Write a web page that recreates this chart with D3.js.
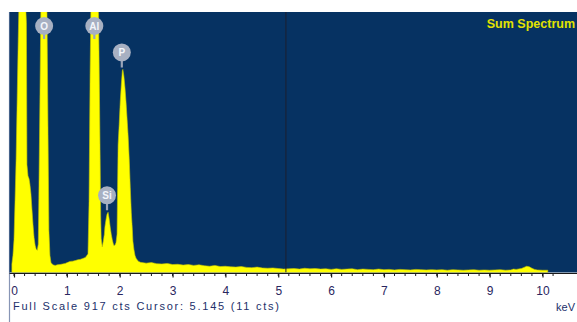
<!DOCTYPE html>
<html>
<head>
<meta charset="utf-8">
<script src="https://cdn.jsdelivr.net/npm/d3@7"></script>
<style>
  html, body { margin: 0; padding: 0; background: #fff; }
  svg { display: block; }
  text { font-family: "Liberation Sans", Arial, sans-serif; }
</style>
</head>
<body>
<svg id="chart" width="577" height="322"></svg>
<script>
// EDS spectrum: energy (keV) and counts per channel
const energies = [
  -0.04, -0.02, 0.00, 0.02, 0.04, 0.06, 0.08, 0.10, 0.12, 0.14, 0.16, 0.18, 0.20, 0.22, 0.235,
  0.245, 0.265, 0.285, 0.30, 0.32, 0.34, 0.36, 0.38, 0.40, 0.42, 0.44,
  0.46, 0.47, 0.49, 0.51, 0.53, 0.55, 0.57, 0.59, 0.61, 0.625, 0.645, 0.66, 0.68, 0.70, 0.72,
  0.75, 0.78, 0.82, 0.87, 0.92, 0.97, 1.02, 1.06, 1.11, 1.16, 1.21, 1.25, 1.30, 1.35, 1.40,
  1.42, 1.44, 1.46, 1.48, 1.50, 1.52, 1.54, 1.56, 1.58, 1.60, 1.61, 1.63, 1.64, 1.65, 1.67,
  1.69, 1.71, 1.72, 1.74, 1.76, 1.78, 1.80, 1.82, 1.84, 1.86, 1.88, 1.89, 1.91,
  1.93, 1.95, 1.96, 1.97, 1.99, 2.01, 2.03, 2.05, 2.06, 2.08, 2.10, 2.12, 2.14, 2.16, 2.18,
  2.20, 2.22, 2.24, 2.25, 2.27, 2.29, 2.31, 2.35, 2.39,
  2.5, 2.6, 2.7, 2.8, 2.9, 3.0, 3.1, 3.2, 3.3, 3.4, 3.5, 3.6, 3.7, 3.8, 3.9,
  4.0, 4.1, 4.2, 4.3, 4.4, 4.5, 4.6, 4.7, 4.8, 4.9, 5.0, 5.1, 5.2, 5.3, 5.4,
  5.5, 5.6, 5.7, 5.8, 5.9, 6.0, 6.1, 6.2, 6.3, 6.4, 6.5, 6.6, 6.7, 6.8, 6.9,
  7.0, 7.1, 7.2, 7.3, 7.4, 7.5, 7.6, 7.7, 7.8, 7.9, 8.0, 8.1, 8.2, 8.3, 8.4,
  8.5, 8.6, 8.7, 8.8, 8.9, 9.0, 9.1, 9.2, 9.3, 9.4, 9.45, 9.5, 9.6, 9.65, 9.7,
  9.75, 9.8, 9.85, 9.9, 10.0, 10.1
];
const counts = [
  30, 60, 115, 255, 400, 610, 820, 1000, 1150, 1250, 1260, 1200, 1080, 940, 880,
  380, 340, 330, 312, 278, 222, 168, 122, 96, 82, 78,
  100, 260, 600, 960, 1100, 1180, 1200, 1150, 1050, 900, 470, 150, 60, 35, 30,
  26, 25, 27, 28, 30, 32, 36, 39, 40, 42, 45, 46, 49, 53, 65,
  250, 700, 1000, 1200, 1300, 1320, 1300, 1200, 1050, 900, 750, 400, 200, 120, 90,
  110, 135, 160, 185, 205, 212, 190, 160, 135, 115, 100, 95, 96,
  105, 135, 300, 450, 520, 600, 660, 710, 715, 690, 650, 600, 540, 480, 400,
  300, 210, 150, 110, 80, 60, 50, 40, 36,
  33, 35, 31, 30, 32, 28, 29, 26, 28, 25, 27, 24, 22, 25, 21,
  22, 20, 19, 21, 18, 17, 19, 16, 15, 16, 14, 12, 13, 14, 12,
  15, 13, 14, 12, 13, 11, 13, 11, 12, 13, 10, 12, 11, 10, 12,
  10, 11, 9, 11, 10, 9, 11, 10, 9, 10, 9, 10, 8, 10, 9,
  8, 9, 10, 8, 9, 8, 9, 10, 8, 9, 12, 11, 14, 18, 22,
  20, 15, 11, 9, 8, 8
];

// Peak identifications
const elementNames = ["O", "Al", "Si", "P"];
const elementEnergies = [0.57, 1.52, 1.76, 2.04];

// Axis and annotation text
const tickValues = [0, 1, 2, 3, 4, 5, 6, 7, 8, 9, 10];
const fullScale = 917;
const cursorEnergy = 5.145;
const cursorCounts = 11;
const titleText = "Sum Spectrum";
const unitText = "keV";

const svg = d3.select("#chart");
const W = 577, H = 322;
const panel = { left: 9.5, top: 12, right: 577, bottom: 272.5 };

const x = d3.scaleLinear().domain([0, 10]).range([14, 542.5]);
const y = d3.scaleLinear().domain([0, fullScale]).range([panel.bottom, panel.top]);

svg.append("rect").attr("width", W).attr("height", H).attr("fill", "#ffffff");

const defs = svg.append("defs");
defs.append("clipPath").attr("id", "plotClip")
  .append("rect")
  .attr("x", panel.left).attr("y", panel.top)
  .attr("width", panel.right - panel.left).attr("height", panel.bottom - panel.top);
const soft = defs.append("filter").attr("id", "soft")
  .attr("x", "-50%").attr("y", "-50%").attr("width", "200%").attr("height", "200%");
soft.append("feGaussianBlur").attr("stdDeviation", 0.7);

// left frame line
svg.append("line")
  .attr("x1", panel.left).attr("x2", panel.left)
  .attr("y1", panel.top).attr("y2", H)
  .attr("stroke", "#8795b5").attr("stroke-width", 1.2);

// spectrum background
svg.append("rect")
  .attr("x", panel.left).attr("y", panel.top)
  .attr("width", panel.right - panel.left).attr("height", panel.bottom - panel.top)
  .attr("fill", "#063262");

const spectrum = energies.map((e, i) => ({ e, c: counts[i] }));

const area = d3.area()
  .x(d => x(d.e))
  .y0(y(0))
  .y1(d => y(d.c))
  .curve(d3.curveLinear);

const plot = svg.append("g").attr("clip-path", "url(#plotClip)");
plot.append("path")
  .datum(spectrum)
  .attr("d", area)
  .attr("fill", "#ffff00")
  .attr("stroke", "#c8c800")
  .attr("stroke-width", 0.6);

// cursor marker
plot.append("line")
  .attr("x1", x(cursorEnergy)).attr("x2", x(cursorEnergy))
  .attr("y1", panel.top).attr("y2", panel.bottom)
  .attr("stroke", "#1b1f2e").attr("stroke-width", 1);

// title, right-aligned against the panel edge
svg.append("text")
  .attr("x", 575).attr("y", 28)
  .attr("text-anchor", "end")
  .attr("font-size", 12.5).attr("font-weight", "bold")
  .attr("fill", "#e2e200")
  .text(titleText);

// element markers
function peakCounts(e0) {
  return d3.max(spectrum.filter(d => Math.abs(d.e - e0) <= 0.04), d => d.c);
}
const markers = plot.append("g");
elementNames.forEach((name, i) => {
  const e = elementEnergies[i];
  const py = y(peakCounts(e));
  const cy = Math.max(py - 17, panel.top + 14);
  const cx = x(e);
  const g = markers.append("g");
  g.append("line")
    .attr("x1", cx).attr("x2", cx)
    .attr("y1", cy).attr("y2", Math.max(py - 2, cy + 13))
    .attr("stroke", "#9aa4b8").attr("stroke-width", 2.2);
  g.append("circle")
    .attr("cx", cx).attr("cy", cy).attr("r", 9)
    .attr("fill", "#a7b0c2")
    .attr("filter", "url(#soft)");
  g.append("text")
    .attr("x", cx).attr("y", cy + 3.5)
    .attr("text-anchor", "middle")
    .attr("font-size", 10).attr("font-weight", "bold")
    .attr("fill", "#f4f6fa")
    .text(name);
});

// energy axis
const axisY = 273.5;
svg.append("line")
  .attr("x1", panel.left).attr("x2", W)
  .attr("y1", axisY).attr("y2", axisY)
  .attr("stroke", "#1a1a1a").attr("stroke-width", 1.2);

const minorTicks = d3.range(0, 51).map(i => i * 0.2).concat([10.2]);
svg.append("g").selectAll("line.minor")
  .data(minorTicks)
  .join("line")
  .attr("class", "minor")
  .attr("x1", d => x(d)).attr("x2", d => x(d))
  .attr("y1", axisY).attr("y2", axisY + 2.5)
  .attr("stroke", "#1a1a1a").attr("stroke-width", 1);

const axis = d3.axisBottom(x)
  .tickValues(tickValues)
  .tickSize(4)
  .tickPadding(9)
  .tickFormat(d3.format("d"));
const axisG = svg.append("g")
  .attr("transform", `translate(0,${axisY})`)
  .call(axis);
axisG.select(".domain").remove();
axisG.selectAll(".tick line").attr("stroke", "#1a1a1a").attr("stroke-width", 1.2);
axisG.selectAll(".tick text")
  .attr("font-family", "'Liberation Sans', Arial, sans-serif")
  .attr("font-size", 12)
  .attr("fill", "#2a2660");

// status line
svg.append("text")
  .attr("x", 13).attr("y", 310)
  .attr("font-size", 11)
  .attr("fill", "#22306a")
  .attr("textLength", 266).attr("lengthAdjust", "spacing")
  .text(`Full Scale ${fullScale} cts Cursor: ${cursorEnergy.toFixed(3)}  (${cursorCounts} cts)`);

svg.append("text")
  .attr("x", 575).attr("y", 311)
  .attr("text-anchor", "end")
  .attr("font-size", 11)
  .attr("fill", "#22306a")
  .text(unitText);
</script>
</body>
</html>
